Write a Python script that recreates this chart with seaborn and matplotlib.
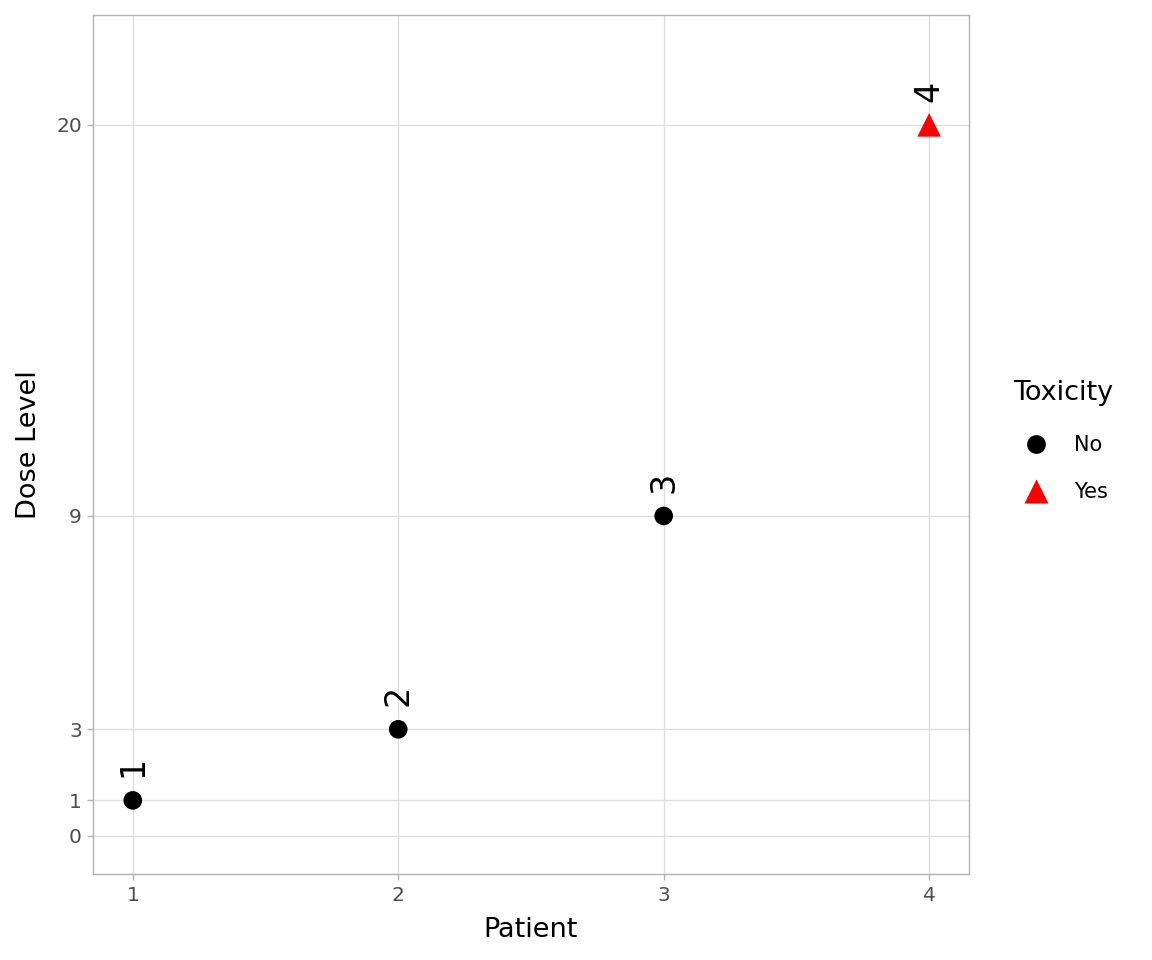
import matplotlib
matplotlib.use("Agg")
import matplotlib.pyplot as plt
from matplotlib.lines import Line2D
import pandas as pd
import seaborn as sns

# ── Data ──────────────────────────────────────────────────────────────────────
patients  = [1, 2, 3, 4]
doses     = [1, 3, 9, 20]
toxicity  = ["No", "No", "No", "Yes"]
labels    = ["1", "2", "3", "4"]
y_ticks   = [0, 1, 3, 9, 20]
x_ticks   = [1, 2, 3, 4]
tox_levels = ["No", "Yes"]

df = pd.DataFrame({"Patient": patients, "Dose": doses, "Toxicity": toxicity, "label": labels})

PALETTE = {"No": "#000000", "Yes": "#FF0000"}
MARKERS = {"No": "o", "Yes": "^"}
SIZES   = {"No": 180, "Yes": 290}
LEG_MS  = {"No": 13.5, "Yes": 17}

# ── Style ─────────────────────────────────────────────────────────────────────
sns.set_theme(style="white")
plt.rcParams.update({
    "font.family": ["DejaVu Sans"],
    "text.color": "black",
    "axes.edgecolor": "#B3B3B3",
    "axes.linewidth": 1.0,
})

fig = plt.figure(figsize=(11.52, 9.6), dpi=100)
ax = fig.add_axes([0.0807, 0.0896, 0.7604, 0.8948])

sns.scatterplot(data=df, x="Patient", y="Dose", hue="Toxicity", style="Toxicity",
                size="Toxicity", sizes=SIZES, size_order=tox_levels,
                palette=PALETTE, markers=MARKERS, hue_order=tox_levels,
                style_order=tox_levels, edgecolor="none", linewidth=0,
                legend=False, ax=ax, zorder=3)

for _, row in df.iterrows():
    ax.annotate(row["label"], (row["Patient"], row["Dose"]),
                xytext=(0, 16.5), textcoords="offset points",
                rotation=90, ha="center", va="bottom",
                fontsize=24, color="black")

ax.set_xlim(0.85, 4.15)
ax.set_ylim(-1.07, 23.09)
ax.set_xticks(x_ticks)
ax.set_yticks(y_ticks)
ax.grid(True, color="#DEDEDE", linewidth=1.0, zorder=0)
ax.set_axisbelow(True)
for sp in ax.spines.values():
    sp.set_color("#B3B3B3")
ax.tick_params(axis="both", which="major", length=4, width=1, color="#B3B3B3",
               labelsize=14.5, labelcolor="#4D4D4D", pad=4,
               bottom=True, left=True)
ax.tick_params(axis="x", pad=5)
ax.set_xlabel("Patient", fontsize=19.5, color="black", labelpad=8)
ax.set_ylabel("Dose Level", fontsize=19.5, color="black", labelpad=10)

handles = [Line2D([0], [0], marker=MARKERS[t], color="none", markerfacecolor=PALETTE[t],
                  markeredgecolor="none", markersize=LEG_MS[t], label=t) for t in tox_levels]
leg = fig.legend(handles=handles, title="Toxicity", loc="upper left",
                 bbox_to_anchor=(0.872, 0.613), frameon=False, fontsize=15,
                 title_fontsize=19.5, handletextpad=0.75, labelspacing=1.3,
                 borderaxespad=0, handlelength=2.2)
leg._legend_box.align = "left"
leg._legend_box.sep = 21
leg.get_title().set_color("black")
for txt in leg.get_texts():
    txt.set_color("black")

fig.savefig("out.png", dpi=100)
